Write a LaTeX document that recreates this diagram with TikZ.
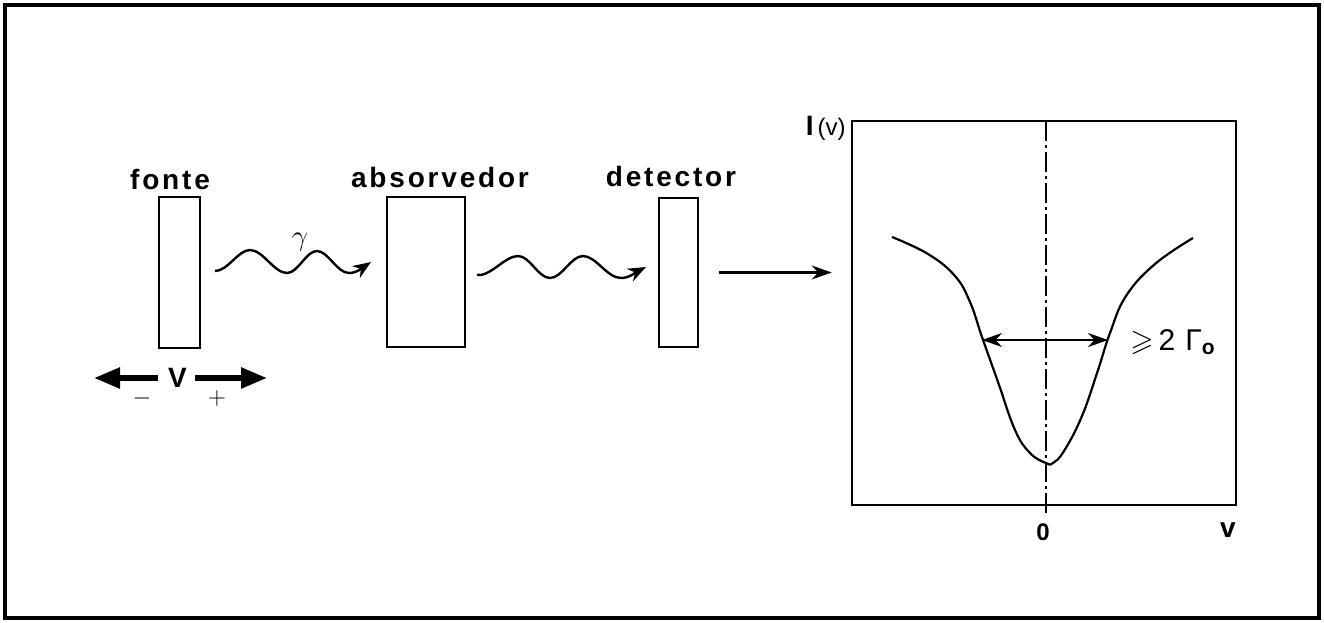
\documentclass[tikz,border=0pt]{standalone}
\usepackage{fontspec}
\usepackage{amssymb}
\usetikzlibrary{arrows.meta}
\newfontfamily\lab[LetterSpace=10]{Liberation Sans}
\newfontfamily\labn{Liberation Sans}
\begin{document}
\begin{tikzpicture}[x=0.5pt,y=-0.5pt,
  box/.style={draw,line width=1.3pt,inner sep=0pt},
  lbl/.style={font=\lab\bfseries\fontsize{14}{16}\selectfont,inner sep=0pt,anchor=base},
  wave/.style={line width=1.2pt,-{Stealth[length=9pt,width=7pt]}},
  conn/.style={line width=1.2pt,-{Stealth[length=10pt,width=7pt]}},
  bigarrow/.style={line width=2.8pt,-{Triangle[length=13pt,width=10pt]}},
  dashdot/.style={line width=0.8pt,dash pattern=on 10pt off 2pt on 1.5pt off 2pt}]
\useasboundingbox (0,0) rectangle (1324,622);
% outer frame
\draw[line width=1.8pt] (5,5) rectangle (1319,618);
% boxes
\node[box,minimum width=20.5pt,minimum height=75.5pt] (fonte) at (179.5,272.5) {};
\node[box,minimum width=39pt,minimum height=75pt] (abs) at (426,272) {};
\node[box,minimum width=19.5pt,minimum height=74.5pt] (det) at (678.5,272.5) {};
\node[box,minimum width=192pt,minimum height=192pt] (graph) at (1044,313) {};
% labels
\node[lbl] (lf) at (170,189) {fonte};
\node[lbl] (la) at (440,187) {absorvedor};
\node[lbl] (ld) at (671,186) {detector};
% wave 1
\coordinate (w1a) at (215,271);
\coordinate (w1e) at (371,262);
\draw[wave] (w1a) .. controls (228,271) and (238,250) .. (250,250)
  .. controls (263,250) and (274,273) .. (287,273)
  .. controls (298,273) and (306,251) .. (317,251)
  .. controls (328,251) and (337,273) .. (349,273)
  .. controls (357,273) and (362,268) .. (w1e);
\node[inner sep=0pt,font=\fontsize{14}{16}\selectfont] (gamma) at (300,242) {$\gamma$};
% wave 2
\coordinate (w2a) at (477,275);
\coordinate (w2e) at (646,267);
\draw[wave] (w2a) .. controls (490,277) and (505,256) .. (518,256)
  .. controls (530,256) and (538,278) .. (550,278)
  .. controls (562,278) and (571,256) .. (583,256)
  .. controls (596,256) and (607,278) .. (621,278)
  .. controls (630,278) and (636,272) .. (w2e);
% detector -> graph
\draw[conn] ([xshift=10pt]det.east) -- ([xshift=-9.5pt]graph.west |- det.east);
% V arrows
\node[inner sep=0pt,font=\labn\bfseries\fontsize{14}{16}\selectfont] (V) at (177.5,378) {V};
\coordinate (vl) at (94,378);
\coordinate (vr) at (267,378);
\draw[bigarrow] ([xshift=-5pt]V.west) -- (vl);
\draw[bigarrow] ([xshift=4pt]V.east) -- (vr);
\node[inner sep=0pt,font=\fontsize{12}{14}\selectfont] (minus) at (142,398) {$-$};
\node[inner sep=0pt,font=\fontsize{12}{14}\selectfont] (plus) at (217,398) {$+$};
% graph contents
\coordinate (dtop) at (1046,121);
\coordinate (dbot) at (1046,513);
\draw[dashdot] (dtop) -- (dbot);
\draw[line width=1.1pt] plot[smooth,tension=0.7] coordinates {(892,237) (928,254) (955,276) (970,302) (982,337) (998,382) (1015,430) (1030,453) (1046,463) (1053,463) (1064,451) (1082,416) (1098,370) (1110,333) (1126,296) (1155,264) (1193,238)};
\coordinate (hl) at (982,340);
\coordinate (hr) at (1108,340);
\draw[line width=1.3pt,{Stealth[length=10pt,width=7pt]}-{Stealth[length=10pt,width=7pt]}] (hl) -- (hr);
\node[anchor=west,inner sep=0pt,font=\labn\fontsize{15}{16}\selectfont] (gl) at (1130,342) {$\geqslant$\,2\,\,Γ\textsubscript{\bfseries o}};
\node[inner sep=0pt,font=\labn\bfseries\fontsize{12}{14}\selectfont] (zero) at (1043,532) {0};
\node[inner sep=0pt,font=\labn\bfseries\fontsize{14}{16}\selectfont] (vel) at (1228,530) {v};
\node[anchor=east,inner sep=0pt,font=\labn\fontsize{12}{14}\selectfont] (iv) at (846,128) {{\bfseries\fontsize{14}{14}\selectfont I}\,(v)};
\end{tikzpicture}
\end{document}
